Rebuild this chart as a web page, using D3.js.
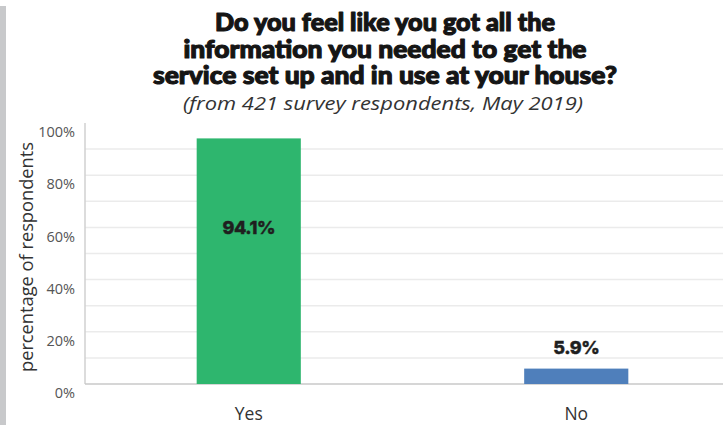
<!DOCTYPE html>
<html>
<head>
<meta charset="utf-8">
<script src="https://cdn.jsdelivr.net/npm/d3@7"></script>
<style>
  html, body { margin: 0; padding: 0; background: #fff; }
  svg { display: block; }
</style>
</head>
<body>
<svg id="chart" width="723" height="425"></svg>
<script>
// Survey answers and their share of respondents (percent)
const categories = ["Yes", "No"];
const values = [94.1, 5.9];
const barColors = ["#2eb66e", "#4f7fbb"];
const yTicks = [0, 20, 40, 60, 80, 100];
const gridTicks = [10, 20, 30, 40, 50, 60, 70, 80, 90];
const titleLines = [
  "Do you feel like you got all the",
  "information you needed to get the",
  "service set up and in use at your house?"
];
const subtitle = "(from 421 survey respondents, May 2019)";
const yAxisTitle = "percentage of respondents";

const W = 723, H = 425;
const svg = d3.select("#chart");

// thin grey strip down the left edge of the panel
svg.append("rect").attr("x", 0).attr("y", 6).attr("width", 6).attr("height", H - 6)
  .attr("fill", "#c8c9cb");

const plot = { left: 85, top: 123, bottom: 384, right: 740 };

const x = d3.scaleBand().domain(categories)
  .range([plot.left, plot.right]).paddingInner(0.682).paddingOuter(0.341);
const y = d3.scaleLinear().domain([0, 100]).range([plot.bottom, plot.top]);

// horizontal gridlines
svg.append("g").selectAll("line").data(gridTicks).join("line")
  .attr("x1", plot.left).attr("x2", W)
  .attr("y1", d => y(d)).attr("y2", d => y(d))
  .attr("stroke", "#ebebeb").attr("stroke-width", 1.5);

// axis lines
svg.append("line").attr("x1", plot.left).attr("x2", plot.left)
  .attr("y1", plot.top).attr("y2", plot.bottom)
  .attr("stroke", "#d0d0d0").attr("stroke-width", 1.5);
svg.append("line").attr("x1", plot.left).attr("x2", W)
  .attr("y1", plot.bottom).attr("y2", plot.bottom)
  .attr("stroke", "#c8c8c8").attr("stroke-width", 1.5);

// y tick labels
const yAxis = d3.axisLeft(y).tickValues(yTicks).tickFormat(d => d + "%").tickSize(0).tickPadding(10);
const gy = svg.append("g").attr("transform", `translate(${plot.left},0)`).call(yAxis);
gy.select(".domain").remove();
gy.selectAll("text")
  .attr("dy", "0.95em")
  .attr("font-family", "'Open Sans', sans-serif")
  .attr("font-size", 14.5).attr("fill", "#555");

// x category labels
const xAxis = d3.axisBottom(x).tickSize(0).tickPadding(24);
const gx = svg.append("g").attr("transform", `translate(0,${plot.bottom})`).call(xAxis);
gx.select(".domain").remove();
gx.selectAll("text")
  .attr("font-family", "'Open Sans', sans-serif")
  .attr("font-size", 17.5).attr("fill", "#333");

// bars
svg.append("g").selectAll("rect").data(values).join("rect")
  .attr("x", (d, i) => x(categories[i]))
  .attr("width", x.bandwidth())
  .attr("y", d => y(d))
  .attr("height", d => y(0) - y(d))
  .attr("fill", (d, i) => barColors[i]);

// value labels: inside the tall bar, above the short one
svg.append("g").selectAll("text").data(values).join("text")
  .attr("x", (d, i) => x(categories[i]) + x.bandwidth() / 2)
  .attr("y", d => d > 50 ? y(d / 2) - 27 : y(d) - 15)
  .attr("text-anchor", "middle")
  .attr("font-family", "Inter, 'Open Sans', sans-serif")
  .attr("font-weight", 800)
  .attr("font-size", 18)
  .attr("letter-spacing", "-0.5")
  .attr("fill", "#1f1f1f")
  .attr("stroke", "#1f1f1f").attr("stroke-width", 0.4)
  .text(d => d.toFixed(1) + "%");

// y axis title
svg.append("text")
  .attr("transform", `translate(33,257) rotate(-90)`)
  .attr("text-anchor", "middle")
  .attr("font-family", "'Open Sans', sans-serif")
  .attr("font-size", 18.5).attr("fill", "#333")
  .attr("textLength", 230)
  .attr("lengthAdjust", "spacingAndGlyphs")
  .text(yAxisTitle);

// title
const titleWidths = [340, 403, 464];
svg.append("g").selectAll("text").data(titleLines).join("text")
  .attr("x", 385)
  .attr("y", (d, i) => 31 + i * 26.5)
  .attr("text-anchor", "middle")
  .attr("font-family", "Lato, Inter, sans-serif")
  .attr("font-weight", 900)
  .attr("font-size", 24)
  .attr("fill", "#151515")
  .attr("stroke", "#151515").attr("stroke-width", 1.1)
  .attr("stroke-linejoin", "round")
  .attr("textLength", (d, i) => titleWidths[i])
  .attr("lengthAdjust", "spacingAndGlyphs")
  .text(d => d);

// subtitle
svg.append("text")
  .attr("x", 383).attr("y", 110)
  .attr("text-anchor", "middle")
  .attr("font-family", "'Open Sans', sans-serif")
  .attr("font-style", "italic")
  .attr("font-size", 19)
  .attr("fill", "#333")
  .attr("textLength", 400)
  .attr("lengthAdjust", "spacingAndGlyphs")
  .text(subtitle);
</script>
</body>
</html>
